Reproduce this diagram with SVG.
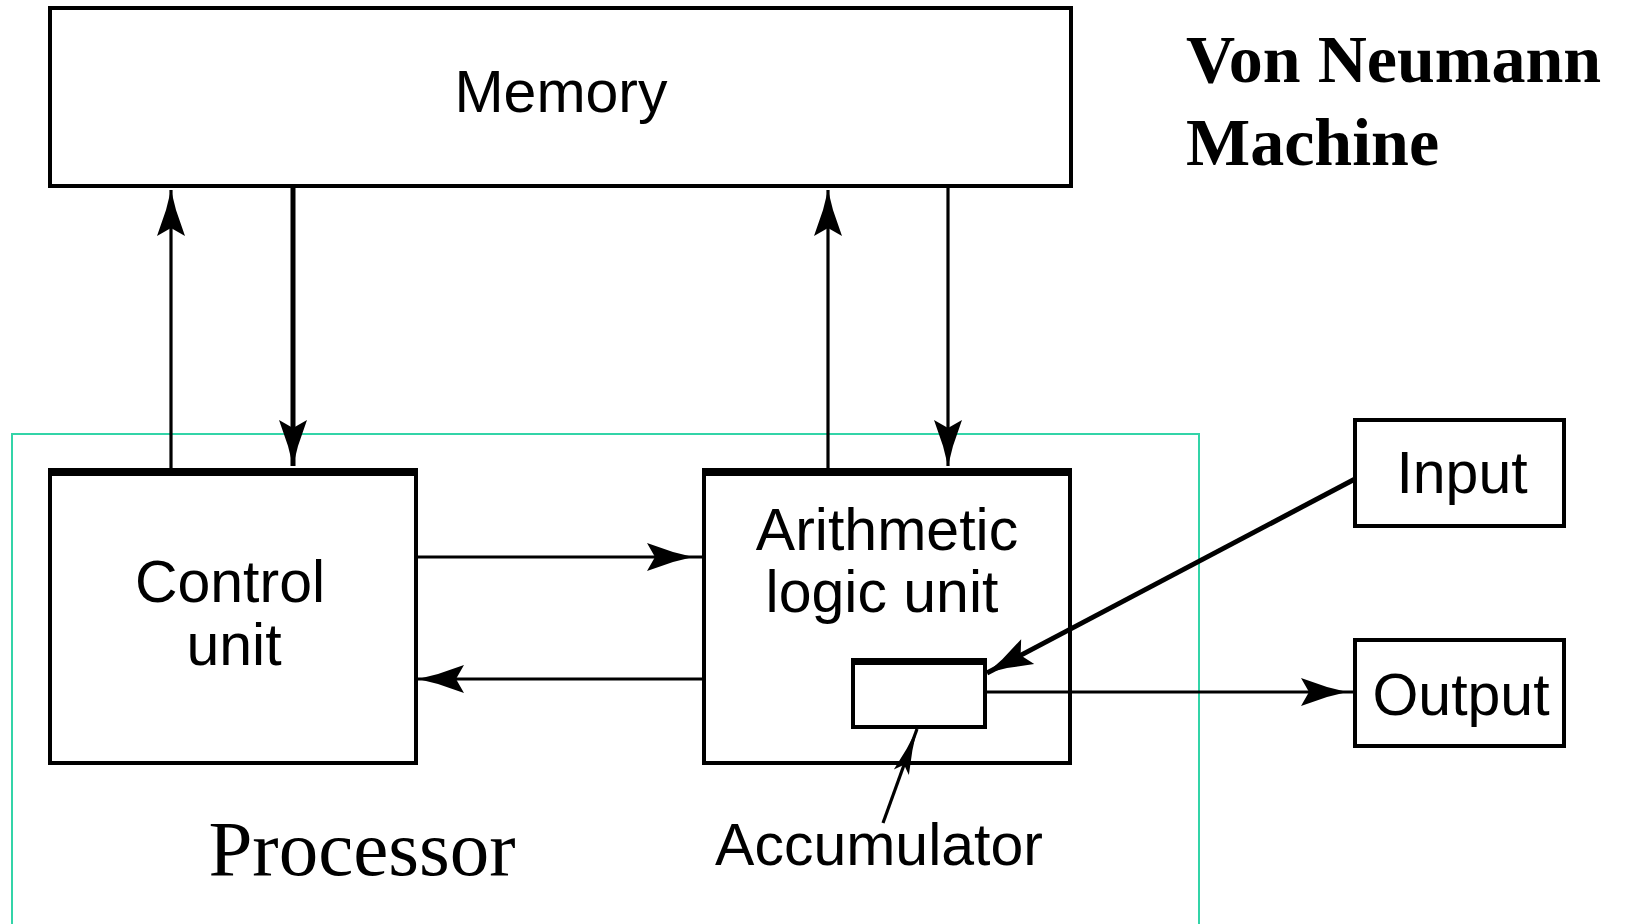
<svg xmlns="http://www.w3.org/2000/svg" width="1627" height="924" viewBox="0 0 1627 924">
  <style>
    .box { fill: #ffffff; stroke: #000000; stroke-width: 4; }
    .thick { stroke: #000000; stroke-width: 8; }
    .lbl { font-family: "Liberation Sans", Arial, sans-serif; font-size: 59px; fill: #000000; text-anchor: middle; }
    .title { font-family: "Liberation Serif", "Times New Roman", serif; font-size: 68px; font-weight: bold; fill: #000000; }
    .proc { font-family: "Liberation Serif", "Times New Roman", serif; font-size: 79px; fill: #000000; text-anchor: middle; }
    .conn { fill: none; stroke: #000000; stroke-width: 3.2; }
    .heavy { stroke-width: 5; }
  </style>
  <defs>
    <marker id="arrow" markerUnits="userSpaceOnUse" viewBox="-50 -16 52 32" refX="0" refY="0" markerWidth="52" markerHeight="32" orient="auto">
      <path d="M0,0 L-20,-5 L-46,-14 L-38,0 L-46,14 L-20,5 Z" fill="#000000"/>
    </marker>
    <marker id="arrowNarrow" markerUnits="userSpaceOnUse" viewBox="-50 -16 52 32" refX="0" refY="0" markerWidth="52" markerHeight="32" orient="auto">
      <path d="M0,0 L-22,-3 L-46,-8 L-38,0 L-46,8 L-22,3 Z" fill="#000000"/>
    </marker>
  </defs>

  <rect width="1627" height="924" fill="#ffffff"/>

  <g id="processor">
    <rect x="12" y="434" width="1187" height="520" fill="none" stroke="#33d4a8" stroke-width="2"/>
    <text class="proc" x="362" y="875">Processor</text>
  </g>

  <g id="memory">
    <rect class="box" x="50" y="8" width="1021" height="178"/>
    <text class="lbl" x="561" y="112">Memory</text>
  </g>

  <g id="title">
    <text class="title" x="1186" y="82">Von Neumann</text>
    <text class="title" x="1186" y="165">Machine</text>
  </g>

  <g id="control-unit">
    <rect class="box" x="50" y="472" width="366" height="291"/>
    <line class="thick" x1="48" y1="472" x2="418" y2="472"/>
    <text class="lbl" x="230" y="602">Control</text>
    <text class="lbl" x="234" y="665">unit</text>
  </g>

  <g id="alu">
    <rect class="box" x="704" y="472" width="366" height="291"/>
    <line class="thick" x1="702" y1="472" x2="1072" y2="472"/>
    <text class="lbl" x="887" y="550">Arithmetic</text>
    <text class="lbl" x="882" y="612">logic unit</text>
  </g>

  <g id="accumulator">
    <rect class="box" x="853" y="660" width="132" height="67"/>
    <line x1="851" y1="661.5" x2="987" y2="661.5" stroke="#000000" stroke-width="7"/>
    <text class="lbl" x="879" y="865">Accumulator</text>
  </g>

  <g id="input">
    <rect class="box" x="1355" y="420" width="209" height="106"/>
    <text class="lbl" x="1462" y="493">Input</text>
  </g>

  <g id="output">
    <rect class="box" x="1355" y="640" width="209" height="106"/>
    <text class="lbl" x="1461" y="715">Output</text>
  </g>

  <g id="connectors">
    <line class="conn" x1="171" y1="472" x2="171" y2="190" marker-end="url(#arrow)"/>
    <line class="conn heavy" x1="293" y1="186" x2="293" y2="466" marker-end="url(#arrow)"/>
    <line class="conn" x1="828" y1="472" x2="828" y2="190" marker-end="url(#arrow)"/>
    <line class="conn" x1="948" y1="186" x2="948" y2="466" marker-end="url(#arrow)"/>
    <path class="conn" d="M416,557 L693,557 L704,557" marker-mid="url(#arrow)"/>
    <line class="conn" x1="704" y1="679" x2="418" y2="679" marker-end="url(#arrow)"/>
    <line class="conn heavy" x1="1355" y1="479" x2="987" y2="673" marker-end="url(#arrow)"/>
    <path class="conn" d="M985,692 L1347,692 L1355,692" marker-mid="url(#arrow)"/>
    <line class="conn" x1="883" y1="823" x2="917" y2="729" marker-end="url(#arrowNarrow)"/>
  </g>
</svg>
